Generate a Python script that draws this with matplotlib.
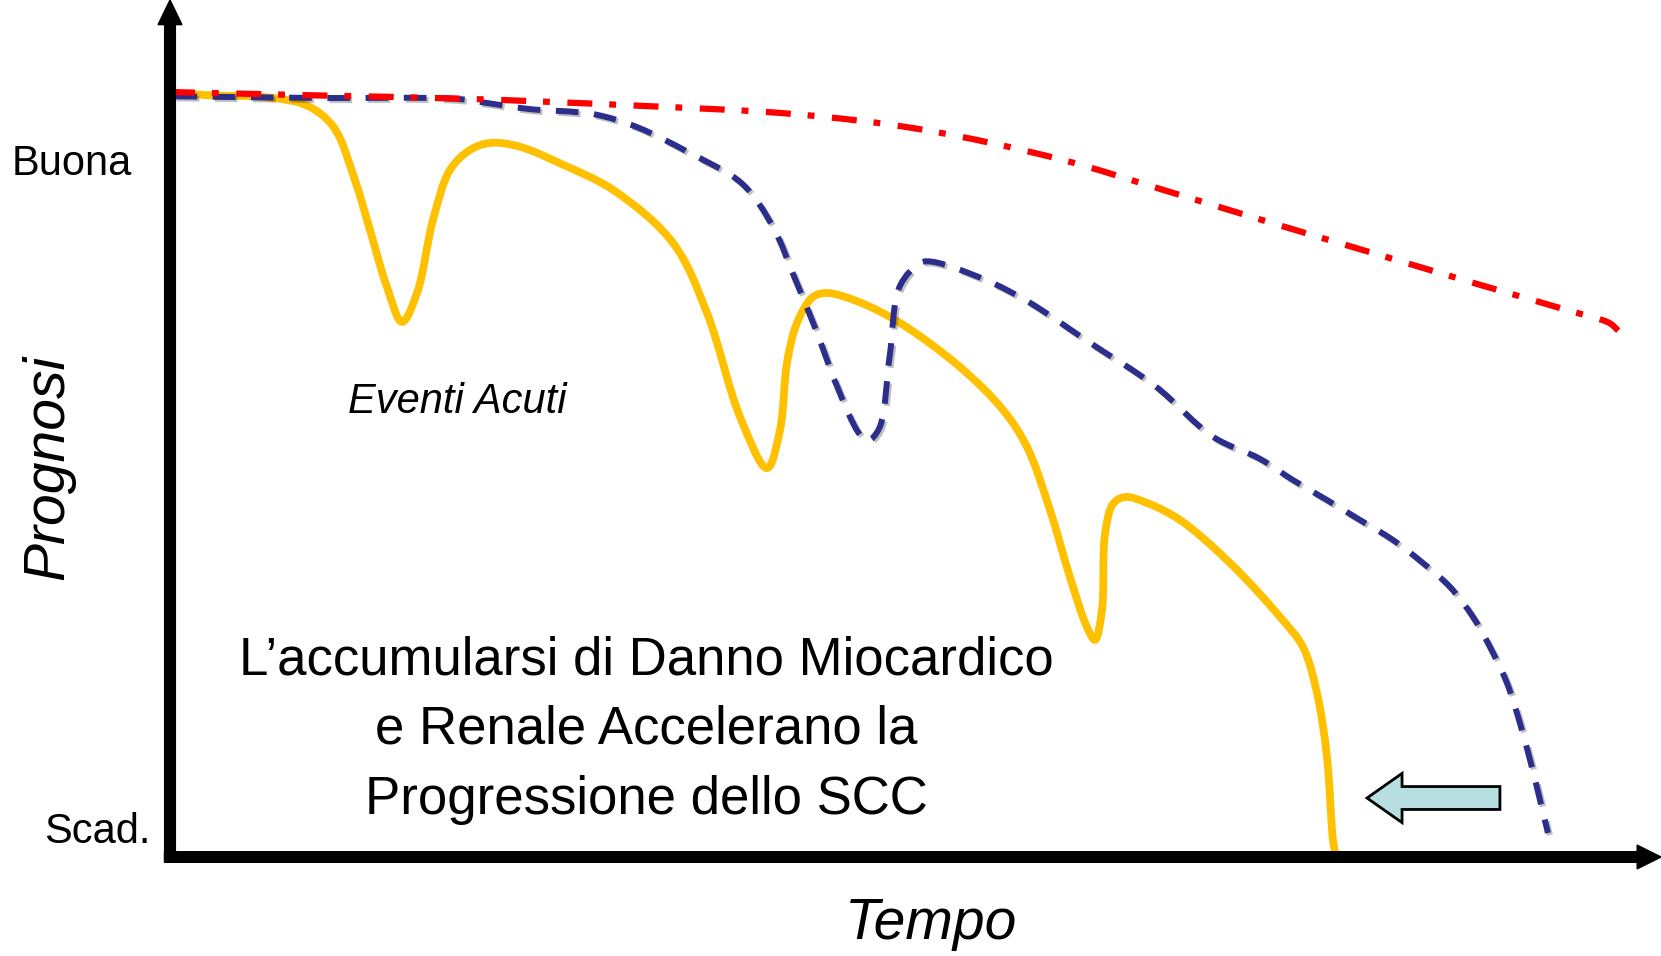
import numpy as np
import matplotlib
matplotlib.use("Agg")
import matplotlib.pyplot as plt
from matplotlib.path import Path
from matplotlib.patches import PathPatch, FancyArrow
import matplotlib.patheffects as pe

plt.rcParams['font.family'] = ['Liberation Sans', 'DejaVu Sans']

# curve control points (tempo, prognosi)
gialla_x = [0.3, 2.8, 6.4, 9.2, 10.98, 12.41, 13.42, 14.56, 15.57, 16.58, 17.65, 18.79, 20.13,
            21.48, 23.4, 26.3, 29.8, 33.76, 36.04, 38.26, 40.07, 40.94, 41.41, 42.08,
            43.15, 44.09, 46.2, 49.0, 53.02, 55.91, 57.52, 59.06, 60.40, 61.54, 62.08,
            62.55, 62.75, 63.3, 64.1, 65.57, 67.79, 71.14, 74.50, 76.04, 76.98, 77.65,
            78.05, 78.19]
gialla_y = [90.0, 89.7, 89.5, 88.5, 85.97, 79.73, 73.85, 67.14, 63.02, 66.43, 75.03, 80.92, 83.27,
            84.10, 83.7, 81.6, 78.5, 72.32, 64.08, 51.83, 45.8, 50.29, 58.19, 62.90,
            65.96, 66.43, 65.4, 62.9, 57.71, 52.65, 48.29, 40.87, 32.98, 27.09, 25.56,
            29.09, 38.0, 41.6, 42.40, 41.70, 39.69, 34.63, 28.27, 24.73, 19.32, 11.78,
            2.0, 0.6]

blu_x = [0.3, 9.9, 19.2, 21.3, 24.1, 28.4, 31.3, 34.8, 38.4, 40.5, 41.9, 43.3, 44.8, 46.2,
         46.8, 47.6, 48.3, 49.0, 50.4, 51.2, 54.7, 57.6, 61.8, 66.1, 70.0, 73.15, 75.37,
         77.65, 79.87, 82.08, 84.09, 85.91, 87.45, 88.59, 89.73, 90.60, 91.28, 91.95, 92.48]
blu_y = [89.6, 89.4, 89.3, 88.8, 88.1, 87.5, 86.0, 83.0, 79.3, 74.1, 68.3, 62.3, 55.3, 50.0,
         49.0, 50.5, 59.0, 67.3, 70.0, 70.1, 68.0, 65.4, 60.5, 55.5, 49.5, 46.9, 44.40,
         42.05, 39.69, 37.34, 34.63, 31.80, 28.27, 24.73, 20.49, 15.78, 11.43, 6.71, 2.83]

rossa_x = [0.0, 9.9, 19.9, 31.3, 41.9, 50.4, 59.7, 66.8, 73.9, 81.0, 88.1, 93.8, 96.6, 97.2]
rossa_y = [90.1, 89.7, 89.3, 88.5, 87.5, 85.7, 82.2, 78.5, 74.7, 71.0, 67.3, 64.4, 62.9, 62.0]

etichette_y = ['Buona', 'Scad.']
livelli_y = [81.6, 3.0]
righe_testo = ['L\u2019accumularsi di Danno Miocardico',
               'e Renale Accelerano la',
               'Progressione dello SCC']


def curva(ax, xs, ys):
    # centripetal Catmull-Rom through the points, written as cubic Bezier segments
    p = np.column_stack([xs, ys]).astype(float)
    p = np.vstack([2 * p[0] - p[1], p, 2 * p[-1] - p[-2]])
    q = ax.transData.transform(p)
    dt = np.sqrt(np.hypot(*np.diff(q, axis=0).T)) + 1e-6
    verts = [p[1]]
    codes = [Path.MOVETO]
    for i in range(1, len(p) - 2):
        p0, p1, p2, p3 = p[i - 1], p[i], p[i + 1], p[i + 2]
        t0, t1, t2 = dt[i - 1], dt[i], dt[i + 1]
        m1 = (p1 - p0) / t0 - (p2 - p0) / (t0 + t1) + (p2 - p1) / t1
        m2 = (p2 - p1) / t1 - (p3 - p1) / (t1 + t2) + (p3 - p2) / t2
        verts += [p1 + m1 * t1 / 3.0, p2 - m2 * t1 / 3.0, p2]
        codes += [Path.CURVE4] * 3
    return Path(verts, codes)


fig = plt.figure(figsize=(16.61, 9.56), dpi=100)
ax = fig.add_axes([0, 0, 1, 1])
ax.set_xlim(-11.41, 100.07)
ax.set_ylim(-11.66, 100.94)
ax.axis('off')

# curves
ax.add_patch(PathPatch(curva(ax, rossa_x, rossa_y), fill=False, ec='#FF0000', lw=4.5,
                       ls=(0, (4.0, 2.7, 1.1, 2.8)), capstyle='butt', zorder=3))
ax.add_patch(PathPatch(curva(ax, blu_x, blu_y), fill=False, ec='#2B2E8A', lw=4.3,
                       ls=(0, (3.8, 2.6)), capstyle='butt', zorder=2,
                       path_effects=[pe.SimpleLineShadow(offset=(1.5, -1.5), alpha=0.25),
                                     pe.Normal()]))
ax.add_patch(PathPatch(curva(ax, gialla_x, gialla_y), fill=False, ec='#FFC000', lw=5.6,
                       capstyle='round', joinstyle='round', zorder=1))

# axes with arrow heads
ax.add_patch(FancyArrow(-0.37, 0, 100.07 + 0.37, 0, width=1.25, head_width=2.8,
                        head_length=1.6, length_includes_head=True, color='black', zorder=5))
ax.add_patch(FancyArrow(0, -0.6, 0, 100.94 + 0.6, width=0.72, head_width=1.6,
                        head_length=2.9, length_includes_head=True, color='black', zorder=5))

# block arrow near the time axis
ax.add_patch(FancyArrow(89.26, 6.95, -8.92, 0, width=2.7, head_width=5.8, head_length=2.35,
                        length_includes_head=True, fc='#B7DFE2', ec='black', lw=2.0, zorder=4))

for lab, lv in zip(etichette_y, livelli_y):
    ax.text(-1.3 if lab == 'Scad.' else -2.55, lv, lab, fontsize=30, ha='right', va='center')

ax.text(-8.2, 45.9, 'Prognosi', fontsize=41, style='italic', rotation=90,
        ha='center', va='center')
ax.text(51.1, -7.9, 'Tempo', fontsize=41, style='italic', ha='center', va='center')
ax.text(19.3, 53.6, 'Eventi Acuti', fontsize=30, style='italic', ha='center', va='center')

for riga, yy in zip(righe_testo, [23.2, 15.0, 6.7]):
    ax.text(31.95, yy, riga, fontsize=38, ha='center', va='center')

fig.savefig('out.png', dpi=100)
